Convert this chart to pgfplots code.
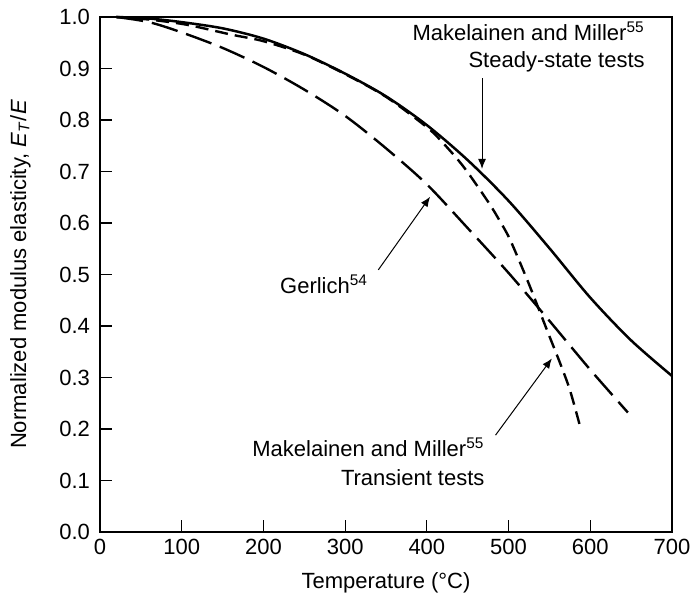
\documentclass[border=0pt]{standalone}
\usepackage{pgfplots}
\pgfplotsset{compat=1.18}
\usepackage{fontspec}
\setmainfont{Liberation Sans}
\usetikzlibrary{arrows.meta}

% Steady-state tests (Makelainen and Miller)
\pgfplotstableread{
T    r
20   1.000
60   0.997
100  0.990
150  0.978
200  0.958
250  0.928
300  0.890
350  0.846
400  0.790
450  0.722
500  0.643
550  0.551
600  0.455
650  0.372
700  0.303
}\steady

% Transient tests (Makelainen and Miller)
\pgfplotstableread{
T    r
20   1.000
60   0.995
106  0.985
160  0.966
200  0.953
250  0.927
300  0.889
350  0.845
400  0.786
420  0.755
445  0.709
475  0.641
490  0.602
502  0.567
524  0.485
548  0.388
563  0.328
575  0.276
587  0.208
}\transient

% Gerlich
\pgfplotstableread{
T    r
20   1.000
60   0.990
100  0.970
150  0.940
200  0.903
250  0.859
300  0.808
350  0.745
400  0.675
450  0.590
500  0.503
550  0.410
600  0.315
646  0.232
}\gerlich

\begin{document}
\begin{tikzpicture}
\begin{axis}[
  scale only axis,
  width=286pt, height=257.5pt,
  xmin=0, xmax=700, ymin=0, ymax=1,
  xtick={0,100,200,300,400,500,600,700},
  ytick={0,0.1,0.2,0.3,0.4,0.5,0.6,0.7,0.8,0.9,1.0},
  yticklabel style={xshift=-1.5pt, /pgf/number format/.cd, fixed, fixed zerofill, precision=1},
  /pgf/number format/assume math mode=true,
  xtick pos=bottom, ytick pos=left,
  tick align=inside,
  major tick length=5.8pt,
  axis line style={line width=0.6pt},
  tick style={line width=0.6pt, black},
  ticklabel style={font=\fontsize{11}{13}\selectfont},
  label style={font=\fontsize{11}{13}\selectfont},
  xlabel={Temperature (°C)},
  ylabel={Normalized modulus elasticity, \textit{E}\textsubscript{\textit{T}}/\textit{E}},
  xlabel style={at={(axis description cs:0.5,-0.099)}, anchor=center},
  ylabel style={at={(axis description cs:-0.139,0.5)}, anchor=center},
  clip=false,
]
\addplot[black, line width=1.25pt, smooth, tension=0.5] table[x=T, y=r] {\steady};
\addplot[black, line width=1.2pt, smooth, tension=0.5, dash pattern=on 6.5pt off 3.5pt] table[x=T, y=r] {\transient};
\addplot[black, line width=1.2pt, smooth, tension=0.5, dash pattern=on 13.5pt off 4.5pt] table[x=T, y=r] {\gerlich};

% annotations
\node[anchor=base east, font=\fontsize{11}{13}\selectfont, inner sep=0pt]
  at (axis cs:667,0.955) {Makelainen and Miller\textsuperscript{55}};
\node[anchor=base east, font=\fontsize{11}{13}\selectfont, inner sep=0pt]
  at (axis cs:667,0.901) {Steady-state tests};
\draw[line width=0.5pt, -{Latex[length=5pt,width=4pt]}] (axis cs:467.5,0.881) -- (axis cs:467.5,0.705);

\node[anchor=base west, font=\fontsize{11}{13}\selectfont, inner sep=0pt]
  at (axis cs:220,0.464) {Gerlich\textsuperscript{54}};
\draw[line width=0.5pt, -{Latex[length=5pt,width=4pt]}] (axis cs:340.6,0.509) -- (axis cs:404,0.651);

\node[anchor=base east, font=\fontsize{11}{13}\selectfont, inner sep=0pt]
  at (axis cs:471,0.146) {Makelainen and Miller\textsuperscript{55}};
\node[anchor=base east, font=\fontsize{11}{13}\selectfont, inner sep=0pt]
  at (axis cs:471,0.091) {Transient tests};
\draw[line width=0.5pt, -{Latex[length=5pt,width=4pt]}] (axis cs:484,0.188) -- (axis cs:553,0.337);
\end{axis}
\pgfresetboundingbox
\path (-50pt,-33pt) rectangle (299.5pt,266pt);
\end{tikzpicture}
\end{document}
